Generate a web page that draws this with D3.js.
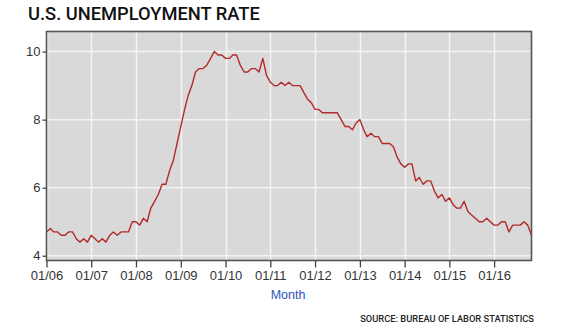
<!DOCTYPE html>
<html>
<head>
<meta charset="utf-8">
<script src="https://cdn.jsdelivr.net/npm/d3@7"></script>
<style>
  html, body { margin: 0; padding: 0; background: #fff; }
  svg { display: block; }
</style>
</head>
<body>
<svg id="chart" width="564" height="333"></svg>
<script>
// ---- Data (monthly U.S. unemployment rate, Jan 2006 – Nov 2016) ----
const startMonth = "2006-01";
const rates2006 = [4.7, 4.8, 4.7, 4.7, 4.6, 4.6, 4.7, 4.7, 4.5, 4.4, 4.5, 4.4];
const rates2007 = [4.6, 4.5, 4.4, 4.5, 4.4, 4.6, 4.7, 4.6, 4.7, 4.7, 4.7, 5.0];
const rates2008 = [5.0, 4.9, 5.1, 5.0, 5.4, 5.6, 5.8, 6.1, 6.1, 6.5, 6.8, 7.3];
const rates2009 = [7.8, 8.3, 8.7, 9.0, 9.4, 9.5, 9.5, 9.6, 9.8, 10.0, 9.9, 9.9];
const rates2010 = [9.8, 9.8, 9.9, 9.9, 9.6, 9.4, 9.4, 9.5, 9.5, 9.4, 9.8, 9.3];
const rates2011 = [9.1, 9.0, 9.0, 9.1, 9.0, 9.1, 9.0, 9.0, 9.0, 8.8, 8.6, 8.5];
const rates2012 = [8.3, 8.3, 8.2, 8.2, 8.2, 8.2, 8.2, 8.0, 7.8, 7.8, 7.7, 7.9];
const rates2013 = [8.0, 7.7, 7.5, 7.6, 7.5, 7.5, 7.3, 7.3, 7.3, 7.2, 6.9, 6.7];
const rates2014 = [6.6, 6.7, 6.7, 6.2, 6.3, 6.1, 6.2, 6.2, 5.9, 5.7, 5.8, 5.6];
const rates2015 = [5.7, 5.5, 5.4, 5.4, 5.6, 5.3, 5.2, 5.1, 5.0, 5.0, 5.1, 5.0];
const rates2016 = [4.9, 4.9, 5.0, 5.0, 4.7, 4.9, 4.9, 4.9, 5.0, 4.9, 4.6];
const yTicks = [4, 6, 8, 10];
const xTickYears = [2006, 2007, 2008, 2009, 2010, 2011, 2012, 2013, 2014, 2015, 2016];
const titleText = "U.S. UNEMPLOYMENT RATE";
const xAxisTitle = "Month";
const sourceText = "SOURCE: BUREAU OF LABOR STATISTICS";

const allRates = [].concat(rates2006, rates2007, rates2008, rates2009, rates2010,
  rates2011, rates2012, rates2013, rates2014, rates2015, rates2016);
const parseMonth = d3.timeParse("%Y-%m");
const start = parseMonth(startMonth);
const data = allRates.map((v, i) => ({ date: d3.timeMonth.offset(start, i), value: v }));

// ---- Layout ----
const svg = d3.select("#chart");
const plot = { left: 46.5, right: 531.5, top: 31.5, bottom: 260.5 };

const x = d3.scaleTime()
  .domain(d3.extent(data, d => d.date))
  .range([plot.left, plot.right]);
const y = d3.scaleLinear()
  .domain([3.86, 10.59])
  .range([plot.bottom, plot.top]);

// background
svg.append("rect")
  .attr("x", plot.left).attr("y", plot.top)
  .attr("width", plot.right - plot.left).attr("height", plot.bottom - plot.top)
  .attr("fill", "#d9d9d9");

const xTickDates = xTickYears.map(yr => new Date(yr, 0, 1));

// grid
svg.append("g").selectAll("line.v").data(xTickDates).join("line")
  .attr("x1", d => Math.round(x(d)) + 0.5).attr("x2", d => Math.round(x(d)) + 0.5)
  .attr("y1", plot.top).attr("y2", plot.bottom)
  .attr("stroke", "#f4f4f4").attr("stroke-width", 1.5);
svg.append("g").selectAll("line.h").data(yTicks).join("line")
  .attr("x1", plot.left).attr("x2", plot.right)
  .attr("y1", d => y(d)).attr("y2", d => y(d))
  .attr("stroke", "#f4f4f4").attr("stroke-width", 1.5);

// line
svg.append("path")
  .datum(data)
  .attr("fill", "none")
  .attr("stroke", "#b32a2a")
  .attr("stroke-width", 1.4)
  .attr("stroke-linejoin", "round")
  .attr("d", d3.line().x(d => x(d.date)).y(d => y(d.value)));

// frame
svg.append("rect")
  .attr("x", plot.left).attr("y", plot.top)
  .attr("width", plot.right - plot.left).attr("height", plot.bottom - plot.top)
  .attr("fill", "none").attr("stroke", "#555").attr("stroke-width", 1.6);

// axes
const xAxis = d3.axisBottom(x)
  .tickValues(xTickDates)
  .tickFormat(d3.timeFormat("%m/%y"))
  .tickSize(7).tickPadding(3).tickSizeOuter(0);
const gx = svg.append("g").attr("transform", `translate(0,${plot.bottom})`).call(xAxis);
gx.select(".domain").remove();
gx.selectAll(".tick line").attr("stroke", "#444").attr("stroke-width", 1.3);
gx.selectAll(".tick text")
  .attr("font-family", "'Liberation Sans', Arial, sans-serif")
  .attr("font-size", 13).attr("fill", "#333");

const yAxis = d3.axisLeft(y)
  .tickValues(yTicks)
  .tickFormat(d3.format("d"))
  .tickSize(4).tickPadding(2).tickSizeOuter(0);
const gy = svg.append("g").attr("transform", `translate(${plot.left},0)`).call(yAxis);
gy.select(".domain").remove();
gy.selectAll(".tick line").attr("stroke", "#444").attr("stroke-width", 1.3);
gy.selectAll(".tick text")
  .attr("font-family", "'Liberation Sans', Arial, sans-serif")
  .attr("font-size", 13).attr("fill", "#333");

// axis title
svg.append("text")
  .attr("x", 288).attr("y", 299)
  .attr("text-anchor", "middle")
  .attr("font-family", "'Liberation Sans', Arial, sans-serif")
  .attr("font-size", 12.5)
  .attr("fill", "#2d55b5")
  .text(xAxisTitle);

// title
const title = svg.append("text")
  .attr("x", 28).attr("y", 20)
  .attr("font-family", "Roboto, 'DejaVu Sans', sans-serif")
  .attr("font-weight", 500)
  .attr("font-size", 18)
  .attr("fill", "#111")
  .text(titleText);
const tw = title.node().getComputedTextLength();
title.attr("font-size", 18 * 232 / tw);

// source
const src = svg.append("text")
  .attr("x", 534).attr("y", 321.5)
  .attr("text-anchor", "end")
  .attr("font-family", "Roboto, 'DejaVu Sans', sans-serif")
  .attr("font-weight", 500)
  .attr("font-size", 10)
  .attr("fill", "#222")
  .text(sourceText);
const sw = src.node().getComputedTextLength();
src.attr("font-size", 10 * 174 / sw);
</script>
</body>
</html>
